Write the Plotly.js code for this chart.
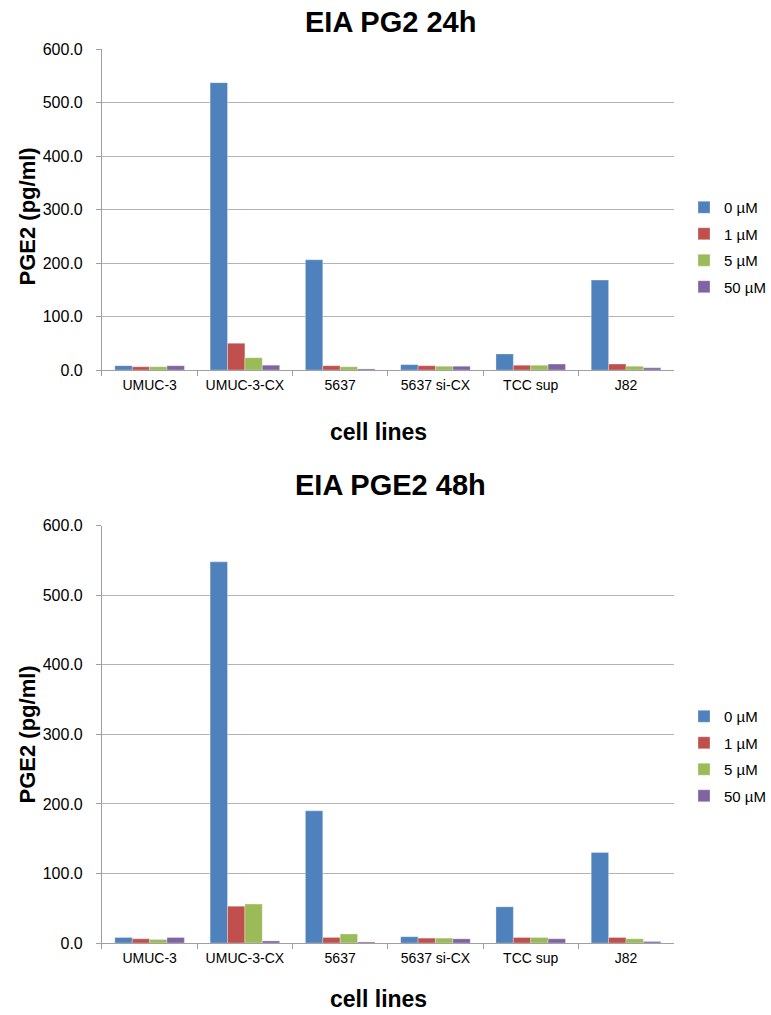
<!DOCTYPE html>
<html>
<head>
<meta charset="utf-8">
<script src="https://cdn.plot.ly/plotly-3.0.1.min.js"></script>
<style>
html,body{margin:0;padding:0;background:#fff;}
#chart{width:771px;height:1015px;}
</style>
</head>
<body>
<div id="chart"></div>
<script>
// ---- data ----
var categories = ['UMUC-3', 'UMUC-3-CX', '5637', '5637 si-CX', 'TCC sup', 'J82'];
var seriesNames = ['0 µM', '1 µM', '5 µM', '50 µM'];
var seriesColors = ['#4F81BD', '#C0504D', '#9BBB59', '#8064A2'];

var h24_0uM  = [8, 537, 206, 10, 30, 168];
var h24_1uM  = [6, 50, 8, 8, 9, 11];
var h24_5uM  = [6, 23, 6, 7, 9, 7];
var h24_50uM = [8, 9, 2, 7, 11, 4];

var h48_0uM  = [8, 548, 190, 9, 52, 130];
var h48_1uM  = [6, 53, 8, 7, 8, 8];
var h48_5uM  = [5, 56, 13, 7, 8, 6];
var h48_50uM = [8, 3, 1.5, 6, 6, 2];

var title24 = 'EIA PG2 24h';
var title48 = 'EIA PGE2 48h';
var yTitle = 'PGE2 (pg/ml)';
var xTitle = 'cell lines';

// ---- build ----
var FONT = 'Liberation Sans, Arial, Helvetica, sans-serif';
var W = 771, H = 1015;
function px2x(p){ return p / W; }
function px2y(p){ return 1 - p / H; }

var set24 = [h24_0uM, h24_1uM, h24_5uM, h24_50uM];
var set48 = [h48_0uM, h48_1uM, h48_5uM, h48_50uM];
var traces = [];
set24.forEach(function(vals, i){
  traces.push({
    type: 'bar', x: categories, y: vals, name: seriesNames[i],
    xaxis: 'x', yaxis: 'y', legend: 'legend', legendgroup: 'a' + i,
    marker: {color: seriesColors[i], line: {color: 'rgba(255,255,255,0.5)', width: 0.6}},
    hoverinfo: 'x+y+name'
  });
});
set48.forEach(function(vals, i){
  traces.push({
    type: 'bar', x: categories, y: vals, name: seriesNames[i],
    xaxis: 'x2', yaxis: 'y2', legend: 'legend2', legendgroup: 'b' + i,
    marker: {color: seriesColors[i], line: {color: 'rgba(255,255,255,0.5)', width: 0.6}},
    hoverinfo: 'x+y+name'
  });
});

var GRID = '#B3B3B3';
var AXL = '#A0A0A0';
function xAxis(anchor){
  return {
    anchor: anchor, type: 'category', domain: [px2x(104), px2x(687)],
    showline: true, linecolor: AXL, linewidth: 1,
    ticks: 'outside', tickson: 'boundaries', ticklen: 5, tickcolor: AXL,
    showgrid: false, zeroline: false,
    tickfont: {family: FONT, size: 14, color: '#000'},
    ticklabelstandoff: 2
  };
}
function yAxis(anchor, top, bottom){
  return {
    anchor: anchor, domain: [px2y(bottom), px2y(top)], range: [0, 600],
    dtick: 100, tick0: 0, tickformat: '.1f',
    showline: true, linecolor: AXL, linewidth: 1,
    ticks: 'outside', ticklen: 5, tickcolor: AXL,
    showgrid: true, gridcolor: GRID, gridwidth: 1, zeroline: false,
    tickfont: {family: FONT, size: 16, color: '#000'},
    ticklabelstandoff: 10
  };
}

var legendBase = {
  orientation: 'v', xanchor: 'left', yanchor: 'top',
  font: {family: FONT, size: 15, color: '#000'},
  traceorder: 'grouped', tracegroupgap: 4, bgcolor: 'rgba(0,0,0,0)',
  itemwidth: 30
};

var layout = {
  width: W, height: H,
  margin: {l: 0, r: 0, t: 0, b: 0},
  paper_bgcolor: '#fff', plot_bgcolor: '#fff',
  barmode: 'group', bargap: 0.27, bargroupgap: 0,
  showlegend: true,
  xaxis: xAxis('y'),
  yaxis: yAxis('x', 49, 370),
  xaxis2: xAxis('y2'),
  yaxis2: yAxis('x2', 525.7, 943),
  legend: Object.assign({}, legendBase, {x: px2x(698), y: px2y(191)}),
  legend2: Object.assign({}, legendBase, {x: px2x(698), y: px2y(700)}),
  annotations: [
    {text: '<b>' + title24 + '</b>', xref: 'paper', yref: 'paper', x: px2x(398), y: px2y(22),
     xanchor: 'center', yanchor: 'middle', showarrow: false, font: {family: FONT, size: 29, color: '#000'}},
    {text: '<b>' + title48 + '</b>', xref: 'paper', yref: 'paper', x: px2x(398), y: px2y(485),
     xanchor: 'center', yanchor: 'middle', showarrow: false, font: {family: FONT, size: 29, color: '#000'}},
    {text: '<b>' + yTitle + '</b>', xref: 'paper', yref: 'paper', x: px2x(28), y: px2y(216), textangle: -90,
     xanchor: 'center', yanchor: 'middle', showarrow: false, font: {family: FONT, size: 22, color: '#000'}},
    {text: '<b>' + yTitle + '</b>', xref: 'paper', yref: 'paper', x: px2x(28), y: px2y(734), textangle: -90,
     xanchor: 'center', yanchor: 'middle', showarrow: false, font: {family: FONT, size: 22, color: '#000'}},
    {text: '<b>' + xTitle + '</b>', xref: 'paper', yref: 'paper', x: px2x(386), y: px2y(432),
     xanchor: 'center', yanchor: 'middle', showarrow: false, font: {family: FONT, size: 23, color: '#000'}},
    {text: '<b>' + xTitle + '</b>', xref: 'paper', yref: 'paper', x: px2x(386), y: px2y(999),
     xanchor: 'center', yanchor: 'middle', showarrow: false, font: {family: FONT, size: 23, color: '#000'}}
  ]
};

Plotly.newPlot('chart', traces, layout, {displayModeBar: false, staticPlot: true});
</script>
</body>
</html>
